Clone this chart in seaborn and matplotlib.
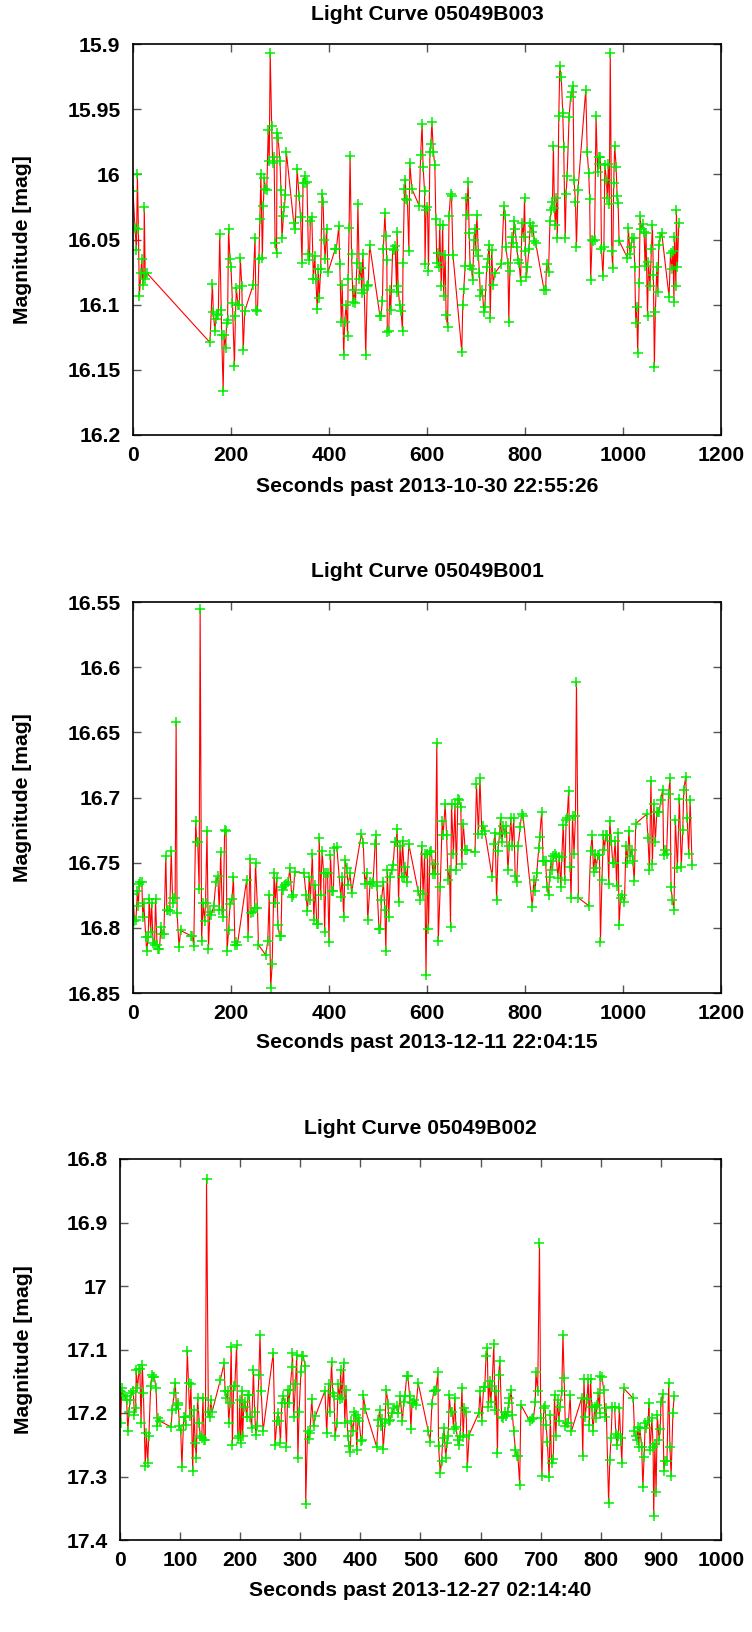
import matplotlib
matplotlib.use('Agg')
import matplotlib.pyplot as plt
import seaborn as sns
import pandas as pd
from matplotlib.ticker import FuncFormatter

# ---------------- data ----------------
titles = ['Light Curve 05049B003', 'Light Curve 05049B001', 'Light Curve 05049B002']
xlabels = ['Seconds past 2013-10-30 22:55:26', 'Seconds past 2013-12-11 22:04:15',
           'Seconds past 2013-12-27 02:14:40']
ylabel = 'Magnitude [mag]'

t1 = [0, 4, 7, 9, 11, 13, 16, 18, 20, 22, 23, 25, 29, 157, 162, 164, 167, 169, 172, 174, 177, 180, 181, 184,
      186, 189, 191, 193, 195, 198, 200, 203, 207, 209, 211, 214, 217, 219, 222, 225, 228, 245, 249, 251, 254,
      257, 259, 261, 264, 266, 268, 270, 273, 276, 278, 280, 283, 285, 288, 290, 293, 294, 296, 300, 302, 304,
      307, 309, 311, 313, 328, 331, 335, 339, 342, 345, 347, 350, 352, 355, 358, 360, 362, 365, 368, 371, 373,
      376, 378, 380, 383, 386, 388, 390, 392, 395, 398, 413, 415, 420, 422, 425, 427, 430, 432, 435, 438, 439,
      441, 443, 446, 449, 452, 454, 457, 459, 462, 465, 467, 469, 472, 475, 478, 480, 483, 504, 506, 509, 511,
      514, 516, 518, 519, 522, 524, 526, 530, 532, 535, 538, 539, 541, 544, 547, 550, 551, 554, 556, 557, 560,
      563, 565, 569, 584, 587, 590, 592, 595, 596, 598, 601, 603, 606, 608, 610, 613, 616, 618, 620, 623, 624,
      626, 629, 632, 634, 637, 639, 642, 645, 648, 650, 653, 671, 673, 675, 678, 680, 681, 684, 686, 688, 691,
      693, 696, 698, 699, 702, 705, 707, 709, 713, 716, 718, 722, 724, 727, 729, 732, 735, 738, 752, 757, 760,
      761, 765, 767, 769, 773, 775, 778, 780, 783, 786, 788, 791, 794, 797, 799, 801, 803, 805, 808, 811, 814,
      816, 819, 822, 839, 842, 844, 848, 851, 854, 856, 858, 860, 862, 864, 866, 869, 871, 874, 877, 879, 882,
      884, 886, 890, 893, 895, 898, 900, 903, 905, 908, 924, 927, 930, 932, 934, 937, 939, 942, 945, 948, 950,
      951, 954, 956, 959, 961, 963, 966, 968, 970, 972, 974, 977, 979, 981, 983, 986, 988, 990, 992, 1009, 1011,
      1014, 1016, 1019, 1022, 1024, 1026, 1028, 1030, 1033, 1035, 1037, 1040, 1043, 1045, 1047, 1050, 1052,
      1055, 1058, 1060, 1062, 1064, 1066, 1069, 1071, 1073, 1076, 1079, 1094, 1097, 1100, 1102, 1104, 1105,
      1108, 1109, 1111, 1114]
m1 = [16.013, 16.041, 16.058, 16.000, 16.042, 16.093, 16.076, 16.065, 16.085, 16.076, 16.025, 16.080, 16.076,
      16.129, 16.084, 16.106, 16.120, 16.111, 16.107, 16.108, 16.046, 16.104, 16.123, 16.166, 16.123, 16.133,
      16.114, 16.112, 16.042, 16.065, 16.071, 16.099, 16.147, 16.109, 16.087, 16.100, 16.100, 16.064, 16.086,
      16.135, 16.105, 16.085, 16.049, 16.104, 16.105, 16.065, 16.034, 16.000, 16.064, 16.024, 16.003, 16.011,
      16.012, 15.966, 15.990, 15.907, 15.963, 15.991, 15.987, 16.053, 16.060, 15.968, 15.972, 15.990, 16.012,
      16.049, 16.032, 16.025, 16.016, 15.983, 16.037, 16.042, 15.996, 16.017, 16.033, 16.068, 16.007, 16.001,
      16.007, 16.006, 16.061, 16.066, 16.036, 16.033, 16.080, 16.063, 16.080, 16.103, 16.073, 16.095, 16.073,
      16.015, 16.021, 16.050, 16.065, 16.042, 16.075, 16.057, 16.057, 16.040, 16.069, 16.113, 16.085, 16.139,
      16.113, 16.100, 16.124, 16.080, 16.041, 15.986, 16.061, 16.098, 16.089, 16.099, 16.068, 16.023, 16.080,
      16.072, 16.091, 16.061, 16.089, 16.139, 16.086, 16.085, 16.054, 16.109, 16.109, 16.097, 16.057, 16.030,
      16.047, 16.066, 16.121, 16.120, 16.089, 16.104, 16.057, 16.058, 16.055, 16.090, 16.044, 16.086, 16.100,
      16.105, 16.120, 16.068, 16.011, 16.004, 16.019, 16.020, 16.059, 15.991, 16.011, 16.024, 15.985, 15.961,
      15.994, 16.013, 16.069, 16.027, 16.025, 16.074, 15.983, 15.977, 15.960, 15.983, 15.993, 16.034, 16.068,
      16.060, 16.071, 16.039, 16.086, 16.039, 16.093, 16.062, 16.108, 16.117, 16.032, 16.015, 16.017, 16.062,
      16.136, 16.100, 16.088, 16.070, 16.018, 16.031, 16.006, 16.045, 16.070, 16.073, 16.081, 16.050, 16.042,
      16.058, 16.031, 16.063, 16.076, 16.093, 16.089, 16.106, 16.102, 16.071, 16.065, 16.054, 16.110, 16.058,
      16.085, 16.076, 16.069, 16.024, 16.031, 16.056, 16.068, 16.113, 16.074, 16.048, 16.053, 16.036, 16.042,
      16.056, 16.066, 16.068, 16.082, 16.037, 16.048, 16.018, 16.059, 16.079, 16.071, 16.057, 16.037, 16.044,
      16.040, 16.051, 16.053, 16.089, 16.089, 16.069, 16.075, 16.036, 16.027, 16.021, 15.978, 16.026, 16.039,
      16.018, 16.049, 15.955, 15.917, 15.925, 15.953, 15.979, 16.049, 16.015, 16.001, 15.956, 15.941, 15.937,
      15.932, 16.004, 16.021, 16.056, 16.012, 15.935, 15.983, 15.999, 16.019, 16.081, 16.050, 16.051, 16.050,
      15.955, 15.998, 15.987, 15.992, 15.987, 16.057, 16.078, 16.056, 15.993, 16.004, 16.018, 15.992, 16.023,
      15.907, 16.059, 16.072, 16.007, 15.978, 15.994, 16.017, 16.022, 16.051, 16.064, 16.041, 16.061, 16.056,
      16.049, 16.049, 16.071, 16.114, 16.102, 16.137, 16.083, 16.032, 16.042, 16.038, 16.044, 16.070, 16.045,
      16.109, 16.067, 16.086, 16.057, 16.039, 16.077, 16.148, 16.106, 16.071, 16.090, 16.054, 16.048, 16.045,
      16.094, 16.060, 16.073, 16.059, 16.098, 16.048, 16.086, 16.027, 16.071, 16.037]

t2 = [0, 3, 6, 9, 11, 13, 15, 18, 20, 22, 26, 28, 31, 33, 36, 38, 41, 44, 46, 49, 52, 54, 57, 60, 63, 67, 69,
      72, 75, 78, 81, 82, 86, 88, 90, 94, 97, 118, 121, 124, 128, 130, 132, 135, 137, 140, 143, 146, 148, 151,
      154, 157, 160, 165, 169, 173, 176, 179, 182, 184, 187, 190, 192, 195, 198, 202, 205, 208, 210, 213, 232,
      235, 239, 241, 244, 248, 250, 254, 256, 271, 275, 278, 281, 284, 288, 290, 293, 296, 299, 302, 304, 307,
      310, 313, 317, 320, 324, 327, 330, 349, 353, 356, 360, 362, 366, 369, 372, 375, 378, 380, 383, 386, 389,
      391, 394, 397, 400, 403, 406, 409, 411, 416, 424, 427, 430, 433, 436, 439, 443, 446, 466, 470, 473, 477,
      479, 484, 487, 490, 494, 496, 498, 502, 505, 507, 511, 514, 516, 519, 522, 525, 528, 531, 534, 537, 539,
      542, 545, 548, 550, 554, 556, 559, 563, 582, 586, 589, 592, 595, 598, 601, 603, 606, 609, 612, 614, 617,
      620, 623, 627, 631, 633, 637, 640, 643, 646, 648, 650, 654, 657, 660, 663, 666, 669, 671, 674, 678, 681,
      698, 701, 705, 708, 712, 715, 718, 733, 736, 739, 742, 745, 748, 750, 753, 756, 759, 762, 765, 768, 771,
      774, 777, 780, 783, 786, 790, 793, 796, 815, 818, 820, 824, 828, 830, 834, 837, 839, 842, 845, 848, 850,
      853, 856, 858, 862, 864, 867, 870, 873, 875, 878, 881, 884, 886, 889, 892, 894, 897, 900, 903, 905, 909,
      930, 934, 937, 940, 943, 945, 949, 952, 954, 957, 960, 962, 965, 968, 971, 973, 976, 979, 981, 984, 987,
      990, 992, 995, 998, 1003, 1006, 1009, 1012, 1015, 1018, 1020, 1023, 1026, 1048, 1051, 1054, 1057, 1060,
      1063, 1066, 1069, 1071, 1074, 1077, 1081, 1083, 1086, 1089, 1093, 1096, 1098, 1101, 1104, 1107, 1111,
      1115, 1119, 1122, 1124, 1128, 1131, 1134, 1137, 1141]
m2 = [16.774, 16.795, 16.794, 16.772, 16.783, 16.766, 16.765, 16.765, 16.792, 16.781, 16.807, 16.818, 16.807,
      16.778, 16.803, 16.781, 16.812, 16.813, 16.778, 16.813, 16.816, 16.816, 16.799, 16.805, 16.805, 16.745,
      16.786, 16.786, 16.787, 16.741, 16.781, 16.777, 16.777, 16.642, 16.789, 16.815, 16.802, 16.806, 16.806,
      16.814, 16.718, 16.734, 16.734, 16.770, 16.555, 16.810, 16.781, 16.795, 16.781, 16.726, 16.816, 16.788,
      16.790, 16.783, 16.765, 16.760, 16.786, 16.742, 16.786, 16.792, 16.725, 16.726, 16.818, 16.802, 16.782,
      16.778, 16.761, 16.813, 16.811, 16.813, 16.763, 16.807, 16.747, 16.789, 16.788, 16.785, 16.750, 16.785,
      16.813, 16.821, 16.810, 16.775, 16.846, 16.828, 16.758, 16.781, 16.762, 16.798, 16.806, 16.806, 16.769,
      16.771, 16.767, 16.766, 16.765, 16.754, 16.776, 16.775, 16.757, 16.758, 16.775, 16.787, 16.761, 16.779,
      16.743, 16.794, 16.767, 16.797, 16.797, 16.731, 16.775, 16.741, 16.758, 16.803, 16.758, 16.758, 16.811,
      16.744, 16.772, 16.772, 16.739, 16.738, 16.776, 16.761, 16.792, 16.748, 16.754, 16.767, 16.758, 16.773,
      16.728, 16.735, 16.766, 16.758, 16.794, 16.765, 16.766, 16.765, 16.736, 16.729, 16.768, 16.801, 16.801,
      16.779, 16.765, 16.786, 16.818, 16.756, 16.792, 16.761, 16.756, 16.752, 16.734, 16.734, 16.724, 16.780,
      16.737, 16.761, 16.733, 16.761, 16.753, 16.765, 16.736, 16.772, 16.779, 16.737, 16.774, 16.743, 16.836,
      16.743, 16.801, 16.742, 16.741, 16.759, 16.751, 16.759, 16.658, 16.810, 16.769, 16.718, 16.729, 16.705,
      16.729, 16.763, 16.756, 16.799, 16.705, 16.743, 16.705, 16.756, 16.701, 16.702, 16.707, 16.751, 16.720,
      16.740, 16.740, 16.742, 16.690, 16.728, 16.685, 16.728, 16.722, 16.726, 16.761, 16.736, 16.727, 16.779,
      16.741, 16.728, 16.716, 16.734, 16.722, 16.727, 16.722, 16.756, 16.737, 16.716, 16.737, 16.716, 16.760,
      16.765, 16.737, 16.723, 16.713, 16.714, 16.784, 16.763, 16.772, 16.758, 16.739, 16.730, 16.711, 16.749,
      16.749, 16.749, 16.769, 16.775, 16.761, 16.749, 16.756, 16.745, 16.743, 16.745, 16.762, 16.746, 16.769,
      16.746, 16.721, 16.763, 16.717, 16.716, 16.695, 16.753, 16.777, 16.714, 16.743, 16.714, 16.611, 16.777,
      16.783, 16.741, 16.729, 16.757, 16.743, 16.754, 16.744, 16.744, 16.811, 16.763, 16.729, 16.740, 16.729,
      16.729, 16.766, 16.718, 16.733, 16.750, 16.750, 16.733, 16.768, 16.727, 16.798, 16.777, 16.775, 16.780,
      16.737, 16.750, 16.726, 16.745, 16.740, 16.749, 16.764, 16.720, 16.713, 16.731, 16.756, 16.687, 16.751,
      16.705, 16.734, 16.711, 16.711, 16.711, 16.702, 16.694, 16.744, 16.740, 16.743, 16.697, 16.685, 16.769,
      16.779, 16.786, 16.717, 16.754, 16.701, 16.753, 16.725, 16.694, 16.684, 16.716, 16.743, 16.702, 16.752]

t3 = [0, 1, 3, 5, 8, 11, 13, 15, 17, 19, 22, 24, 26, 27, 29, 32, 33, 35, 37, 39, 42, 44, 46, 48, 51, 53, 55,
      57, 60, 62, 64, 67, 85, 87, 90, 92, 94, 96, 97, 99, 101, 103, 106, 108, 109, 112, 114, 116, 118, 121,
      123, 125, 127, 129, 132, 133, 136, 138, 140, 142, 144, 147, 149, 151, 153, 167, 173, 175, 177, 179, 181,
      183, 185, 187, 189, 191, 194, 196, 198, 199, 201, 203, 204, 206, 208, 211, 213, 215, 217, 219, 222, 224,
      226, 228, 231, 233, 235, 238, 255, 258, 261, 263, 265, 267, 269, 272, 274, 277, 279, 281, 283, 286, 287,
      289, 292, 294, 296, 298, 301, 303, 305, 308, 309, 312, 314, 316, 319, 322, 325, 341, 344, 347, 349, 352,
      354, 356, 358, 361, 363, 366, 367, 369, 372, 374, 376, 379, 381, 383, 385, 388, 390, 392, 394, 396, 398,
      401, 403, 405, 408, 427, 430, 432, 434, 436, 438, 441, 443, 446, 447, 450, 452, 456, 461, 463, 466, 470,
      472, 474, 477, 479, 482, 484, 486, 488, 490, 493, 496, 513, 516, 519, 522, 524, 526, 529, 530, 533, 535,
      537, 539, 542, 544, 546, 548, 550, 553, 555, 557, 559, 562, 564, 566, 569, 571, 573, 576, 578, 581, 597,
      599, 602, 605, 607, 609, 611, 613, 615, 617, 619, 622, 624, 626, 628, 630, 632, 635, 638, 640, 642, 645,
      647, 648, 651, 653, 655, 658, 660, 662, 665, 667, 682, 685, 688, 691, 692, 695, 698, 700, 702, 705, 707,
      709, 711, 714, 716, 718, 721, 723, 725, 728, 730, 732, 735, 737, 739, 741, 743, 746, 749, 751, 768, 770,
      772, 774, 777, 779, 781, 783, 785, 787, 790, 792, 794, 796, 798, 799, 802, 805, 807, 809, 813, 815, 817,
      819, 823, 825, 827, 829, 831, 833, 835, 838, 854, 856, 858, 860, 862, 863, 865, 868, 870, 872, 874, 876,
      879, 880, 882, 885, 887, 888, 890, 892, 894, 897, 899, 900, 903, 905, 907, 910, 913, 915, 917, 920, 922]
m3 = [17.166, 17.216, 17.161, 17.172, 17.174, 17.179, 17.229, 17.198, 17.179, 17.169, 17.165, 17.203, 17.192,
      17.132, 17.161, 17.131, 17.131, 17.215, 17.124, 17.169, 17.283, 17.231, 17.278, 17.237, 17.158, 17.140,
      17.143, 17.143, 17.161, 17.220, 17.208, 17.213, 17.222, 17.195, 17.169, 17.152, 17.194, 17.185, 17.188,
      17.221, 17.227, 17.285, 17.206, 17.206, 17.219, 17.103, 17.152, 17.205, 17.154, 17.292, 17.195, 17.247,
      17.271, 17.177, 17.215, 17.236, 17.240, 17.177, 17.242, 17.242, 16.831, 17.198, 17.207, 17.180, 17.199,
      17.148, 17.122, 17.166, 17.177, 17.166, 17.215, 17.185, 17.096, 17.250, 17.158, 17.158, 17.093, 17.240,
      17.237, 17.179, 17.247, 17.166, 17.236, 17.190, 17.182, 17.207, 17.172, 17.172, 17.206, 17.224, 17.133,
      17.198, 17.234, 17.221, 17.140, 17.077, 17.165, 17.229, 17.105, 17.250, 17.213, 17.200, 17.212, 17.247,
      17.185, 17.174, 17.185, 17.253, 17.164, 17.184, 17.164, 17.128, 17.105, 17.206, 17.154, 17.109, 17.271,
      17.198, 17.136, 17.111, 17.111, 17.126, 17.343, 17.229, 17.241, 17.232, 17.178, 17.221, 17.205, 17.165,
      17.232, 17.154, 17.198, 17.119, 17.169, 17.174, 17.236, 17.215, 17.155, 17.178, 17.133, 17.177, 17.122,
      17.216, 17.164, 17.236, 17.252, 17.262, 17.213, 17.228, 17.198, 17.203, 17.258, 17.208, 17.213, 17.244,
      17.242, 17.172, 17.194, 17.253, 17.211, 17.195, 17.221, 17.210, 17.257, 17.216, 17.163, 17.186, 17.213,
      17.211, 17.200, 17.192, 17.189, 17.200, 17.174, 17.213, 17.182, 17.174, 17.142, 17.142, 17.174, 17.225,
      17.184, 17.185, 17.179, 17.187, 17.152, 17.229, 17.246, 17.186, 17.166, 17.165, 17.164, 17.135, 17.252,
      17.295, 17.276, 17.240, 17.224, 17.271, 17.248, 17.237, 17.172, 17.198, 17.198, 17.225, 17.177, 17.222,
      17.243, 17.250, 17.236, 17.161, 17.238, 17.192, 17.198, 17.285, 17.234, 17.200, 17.166, 17.212, 17.159,
      17.159, 17.111, 17.098, 17.190, 17.149, 17.182, 17.158, 17.091, 17.195, 17.166, 17.263, 17.140, 17.118,
      17.207, 17.208, 17.199, 17.205, 17.199, 17.177, 17.184, 17.164, 17.203, 17.228, 17.259, 17.268, 17.267,
      17.313, 17.187, 17.213, 17.210, 17.208, 17.182, 17.136, 17.166, 16.933, 17.208, 17.299, 17.192, 17.189,
      17.219, 17.245, 17.301, 17.203, 17.278, 17.273, 17.172, 17.236, 17.179, 17.213, 17.191, 17.166, 17.077,
      17.145, 17.221, 17.216, 17.216, 17.172, 17.229, 17.177, 17.268, 17.147, 17.206, 17.178, 17.147, 17.219,
      17.147, 17.190, 17.229, 17.190, 17.208, 17.187, 17.169, 17.200, 17.142, 17.144, 17.164, 17.207, 17.192,
      17.341, 17.274, 17.240, 17.190, 17.191, 17.233, 17.250, 17.237, 17.192, 17.240, 17.278, 17.161, 17.177,
      17.228, 17.237, 17.243, 17.222, 17.253, 17.224, 17.253, 17.317, 17.270, 17.215, 17.224, 17.212, 17.185,
      17.259, 17.208, 17.253, 17.362, 17.249, 17.325, 17.203, 17.243, 17.225, 17.182, 17.170, 17.292, 17.276,
      17.276, 17.152, 17.253, 17.299, 17.200, 17.173]

yticks1 = [15.9, 15.95, 16.0, 16.05, 16.1, 16.15, 16.2]
yticks2 = [16.55, 16.6, 16.65, 16.7, 16.75, 16.8, 16.85]
yticks3 = [16.8, 16.9, 17.0, 17.1, 17.2, 17.3, 17.4]
xticks12 = [0, 200, 400, 600, 800, 1000, 1200]
xticks3 = [0, 100, 200, 300, 400, 500, 600, 700, 800, 900, 1000]

# ---------------- style ----------------
sns.set_style('ticks')
plt.rcParams['font.family'] = ['Liberation Sans', 'DejaVu Sans']
plt.rcParams['font.weight'] = 'bold'
plt.rcParams['text.color'] = 'black'
plt.rcParams['axes.labelcolor'] = 'black'
plt.rcParams['xtick.labelcolor'] = 'black'
plt.rcParams['ytick.labelcolor'] = 'black'
FS = 15.2

W, H = 752, 1632
fig = plt.figure(figsize=(W / 100, H / 100), dpi=100)
fig.patch.set_facecolor('white')

# pixel boxes: left, top, right, bottom ; title y ; xlabel y
boxes = [(133, 44, 721, 435, 15, 487),
         (133, 602, 721, 993, 572, 1043),
         (120, 1159, 721, 1540, 1129, 1590)]
series = [(t1, m1, yticks1, xticks12), (t2, m2, yticks2, xticks12), (t3, m3, yticks3, xticks3)]

fmt = FuncFormatter(lambda v, p: f'{v:g}')

for i, ((l, t, r, b, ty, xy), (tt, mm, yt, xt)) in enumerate(zip(boxes, series)):
    ax = fig.add_axes([l / W, 1 - b / H, (r - l) / W, (b - t) / H])
    df = pd.DataFrame({'t': tt, 'm': mm})
    sns.lineplot(data=df, x='t', y='m', ax=ax, estimator=None, sort=False,
                 color='#ff0000', linewidth=0.8, marker='+', markersize=7,
                 markeredgecolor='#00ee00', markeredgewidth=1.1)
    ax.set_xlim(xt[0], xt[-1])
    ax.set_ylim(yt[-1], yt[0])
    ax.set_xticks(xt)
    ax.set_yticks(yt)
    ax.yaxis.set_major_formatter(fmt)
    ax.xaxis.set_major_formatter(fmt)
    ax.tick_params(direction='in', length=6, width=1, top=True, right=True,
                   labelsize=FS, color='#555555', labelcolor='black')
    ax.tick_params(axis='x', pad=8)
    ax.tick_params(axis='y', pad=9)
    for lab in ax.get_xticklabels() + ax.get_yticklabels():
        lab.set_fontweight('bold')
    for s in ax.spines.values():
        s.set_linewidth(1.2)
        s.set_color('black')
        s.set_visible(True)
    h = b - t
    ax.set_title(titles[i], fontsize=FS, fontweight='bold', y=1 + (t - ty) / h, pad=0,
                 va='center', color='black')
    ax.set_xlabel(xlabels[i], fontsize=FS, fontweight='bold', va='center', color='black')
    ax.xaxis.set_label_coords(0.5, -(xy - b) / h)
    ax.set_ylabel(ylabel, fontsize=FS, fontweight='bold', va='center', color='black')
    ax.yaxis.set_label_coords(-(l - 23) / (r - l), 0.5)

fig.savefig('out.png', dpi=100, facecolor='white')
